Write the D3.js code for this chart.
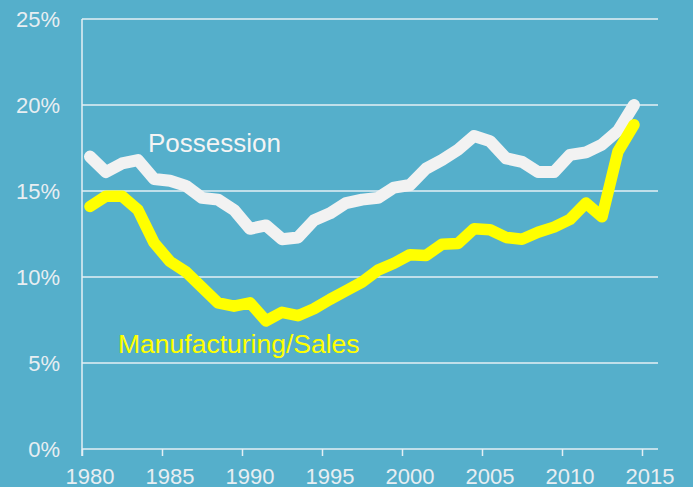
<!DOCTYPE html>
<html>
<head>
<meta charset="utf-8">
<script src="https://cdn.jsdelivr.net/npm/d3@7"></script>
<style>
  html, body { margin: 0; padding: 0; background: #55afcb; }
  svg { display: block; }
  text { font-family: "Liberation Sans", Arial, sans-serif; }
</style>
</head>
<body>
<script>
// Width and height of svg
var w = 693;
var h = 487;

// Years plotted (one point per year)
var years = d3.range(1980, 2015);

// Share of drug arrests by type, percent
var possession = [17.0, 16.1, 16.6, 16.8, 15.7, 15.6, 15.3, 14.6, 14.5, 13.9,
                  12.8, 13.0, 12.2, 12.3, 13.3, 13.7, 14.3, 14.5, 14.6, 15.2,
                  15.35, 16.3, 16.8, 17.4, 18.2, 17.9, 16.9, 16.7, 16.1, 16.1,
                  17.1, 17.25, 17.7, 18.5, 20.0];

var manufacturing = [14.1, 14.7, 14.7, 13.9, 12.0, 10.9, 10.3, 9.4, 8.5, 8.3,
                     8.5, 7.45, 7.95, 7.75, 8.15, 8.7, 9.2, 9.7, 10.4, 10.8,
                     11.3, 11.25, 11.9, 11.95, 12.8, 12.75, 12.3, 12.2, 12.6, 12.9,
                     13.35, 14.3, 13.5, 17.3, 18.85];

// Tick values
var yTicks = [0, 5, 10, 15, 20, 25];
var xTicks = [1980, 1985, 1990, 1995, 2000, 2005, 2010, 2015];

// Scales
var x = d3.scaleLinear()
        .domain([1980, 2016])
        .range([82, 658]);

var y = d3.scaleLinear()
        .domain([0, 25])
        .range([449, 19]);

//Create SVG element
var svg = d3.select("body")
        .append("svg")
        .attr("width", w)
        .attr("height", h);

svg.append("rect")
    .attr("width", w)
    .attr("height", h)
    .attr("fill", "#55afcb");

// Horizontal gridlines
svg.append("g")
    .selectAll("line")
    .data(yTicks.slice(1))
    .enter().append("line")
    .attr("x1", x(1980))
    .attr("x2", x(2016))
    .attr("y1", function(d) { return y(d); })
    .attr("y2", function(d) { return y(d); })
    .attr("stroke", "#e4eff4")
    .attr("stroke-width", 1.5);

// Y axis, labels only
var yAxis = svg.append("g")
    .attr("transform", "translate(60,0)")
    .call(d3.axisLeft(y)
        .tickValues(yTicks)
        .tickSize(0)
        .tickPadding(0)
        .tickFormat(function(d) { return d + "%"; }));
yAxis.select(".domain").remove();
yAxis.selectAll("text")
    .attr("fill", "#e8eef2")
    .attr("font-size", "22px")
    .style("font-family", "Liberation Sans, Arial, sans-serif");

// Left axis line
svg.append("line")
    .attr("x1", x(1980))
    .attr("x2", x(1980))
    .attr("y1", y(25))
    .attr("y2", y(0) + 7)
    .attr("stroke", "#e4eff4")
    .attr("stroke-width", 1.5);

// X axis: ticks at year boundaries, labels centred on the year
var xAxis = svg.append("g")
    .attr("transform", "translate(0," + y(0) + ")")
    .call(d3.axisBottom(x)
        .tickValues(xTicks)
        .tickSize(7)
        .tickFormat(""));
xAxis.select(".domain")
    .attr("d", "M" + x(1980) + ",0H" + x(2016))
    .attr("stroke", "#e4eff4")
    .attr("stroke-width", 1.5);
xAxis.selectAll(".tick line")
    .attr("stroke", "#e4eff4")
    .attr("stroke-width", 1.5);

svg.append("g")
    .selectAll("text")
    .data(xTicks)
    .enter().append("text")
    .attr("x", function(d) { return x(d + 0.5); })
    .attr("y", 484)
    .attr("text-anchor", "middle")
    .attr("fill", "#e8eef2")
    .attr("font-size", "22px")
    .text(function(d) { return d; });

// Line generator (points at the middle of each year)
var line = d3.line()
    .x(function(d) { return x(d[0] + 0.5); })
    .y(function(d) { return y(d[1]); });

svg.append("path")
    .datum(d3.zip(years, possession))
    .attr("d", line)
    .attr("fill", "none")
    .attr("stroke", "#f2f2f2")
    .attr("stroke-width", 12)
    .attr("stroke-linejoin", "round")
    .attr("stroke-linecap", "round");

svg.append("path")
    .datum(d3.zip(years, manufacturing))
    .attr("d", line)
    .attr("fill", "none")
    .attr("stroke", "#ffff00")
    .attr("stroke-width", 11.5)
    .attr("stroke-linejoin", "round")
    .attr("stroke-linecap", "round");

// Series labels
svg.append("text")
    .attr("x", 148)
    .attr("y", 152)
    .attr("fill", "#f4f4f4")
    .attr("font-size", "26px")
    .text("Possession");

svg.append("text")
    .attr("x", 118)
    .attr("y", 353)
    .attr("fill", "#ffff00")
    .attr("font-size", "26.5px")
    .text("Manufacturing/Sales");
</script>
</body>
</html>
